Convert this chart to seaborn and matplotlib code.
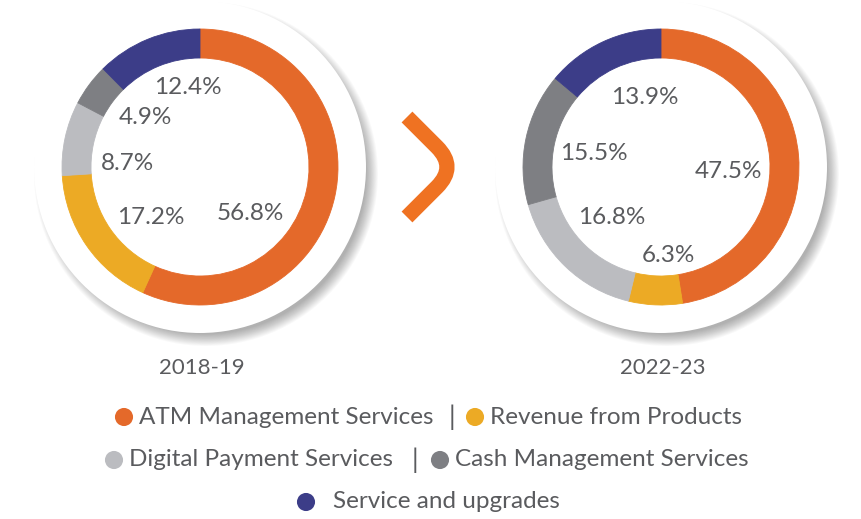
import matplotlib
matplotlib.use("Agg")
import matplotlib.pyplot as plt
import seaborn as sns
import numpy as np
from matplotlib.patches import Circle, PathPatch
from matplotlib.path import Path

# datos de los dos anillos
categorias = ["ATM Management Services", "Revenue from Products",
              "Digital Payment Services", "Cash Management Services",
              "Service and upgrades"]
colores = ["#E4692A", "#ECAA25", "#BBBCC0", "#7E7F83", "#3C3D88"]
anios = ["2018-19", "2022-23"]
valores_2018 = [56.8, 17.2, 8.7, 4.9, 12.4]
valores_2022 = [47.5, 6.3, 16.8, 15.5, 13.9]

W, H = 861, 519

sns.set_theme(style="white")
plt.rcParams['font.family'] = ['Lato', 'DejaVu Sans']
gris_texto = "#5A5B5E"

fig = plt.figure(figsize=(W / 100, H / 100), dpi=100)
ax = fig.add_axes([0, 0, 1, 1])

# posicion de cada anillo (pixeles) y de sus etiquetas, relativas al centro
centros = [(200, 167), (661, 167)]
pos_etiquetas = [
    [(50, -47), (-49, -51), (-73, 4), (-55, 50), (-12, 79)],
    [(67, -5), (7, -88), (-49, -51), (-67, 14), (-16, 70)],
]

for i, vals in enumerate([valores_2018, valores_2022]):
    cx, cy = centros[i]
    cy = H - cy
    # sombra del disco blanco
    for k in range(14):
        ax.add_patch(Circle((cx + 6, cy - 7), 172 - k * 0.9, color="#000000",
                            alpha=0.022, lw=0, zorder=1))
    ax.add_patch(Circle((cx, cy), 166, color="white", lw=0, zorder=2))
    wedges, _ = ax.pie(vals, colors=colores, startangle=90, counterclock=False,
                       radius=138, center=(cx, cy),
                       wedgeprops=dict(width=29, linewidth=0.6, edgecolor=None))
    for w in wedges:
        w.set_edgecolor(w.get_facecolor())
        w.set_zorder(3)
    for v, (dx, dy) in zip(vals, pos_etiquetas[i]):
        ax.text(cx + dx, cy + dy, f"{v}%", ha="center", va="center",
                fontsize=17.5, color=gris_texto, zorder=4)
    ax.text(centros[i][0] + 2, H - 368, anios[i], ha="center", va="center",
            fontsize=16, color=gris_texto)

# flecha entre los anillos (chevron con punta redondeada)
pts = [(407, 117), (437, 147), (457, 167), (437, 187), (407, 217)]
codigos = [Path.MOVETO, Path.LINETO, Path.CURVE3, Path.CURVE3, Path.LINETO]
camino = Path([(x, H - y) for x, y in pts], codigos)
ax.add_patch(PathPatch(camino, facecolor="none", edgecolor="#EF7222", lw=11,
                       capstyle="butt", joinstyle="round", zorder=3))

# leyenda hecha a mano
filas = [[(124, 0), (475, 1)], [(114, 2), (440, 3)], [(306, 4)]]
filas_y = [417, 460, 502]
separadores = [452, 415]
for fila, y in zip(filas, filas_y):
    for x, c in fila:
        sns.scatterplot(x=[x], y=[H - y], color=colores[c], s=170,
                        edgecolor="none", ax=ax, zorder=4)
        dx = 27 if c == 4 else 15
        ax.text(x + dx, H - y, categorias[c], ha="left", va="center",
                fontsize=17.5, color=gris_texto)
for x, y in zip(separadores, filas_y):
    ax.text(x, H - y, "|", ha="center", va="center", fontsize=19,
            color=gris_texto)

ax.set_xlim(0, W)
ax.set_ylim(0, H)
ax.set_aspect("equal")
ax.axis("off")

fig.savefig("out.png", dpi=100)
